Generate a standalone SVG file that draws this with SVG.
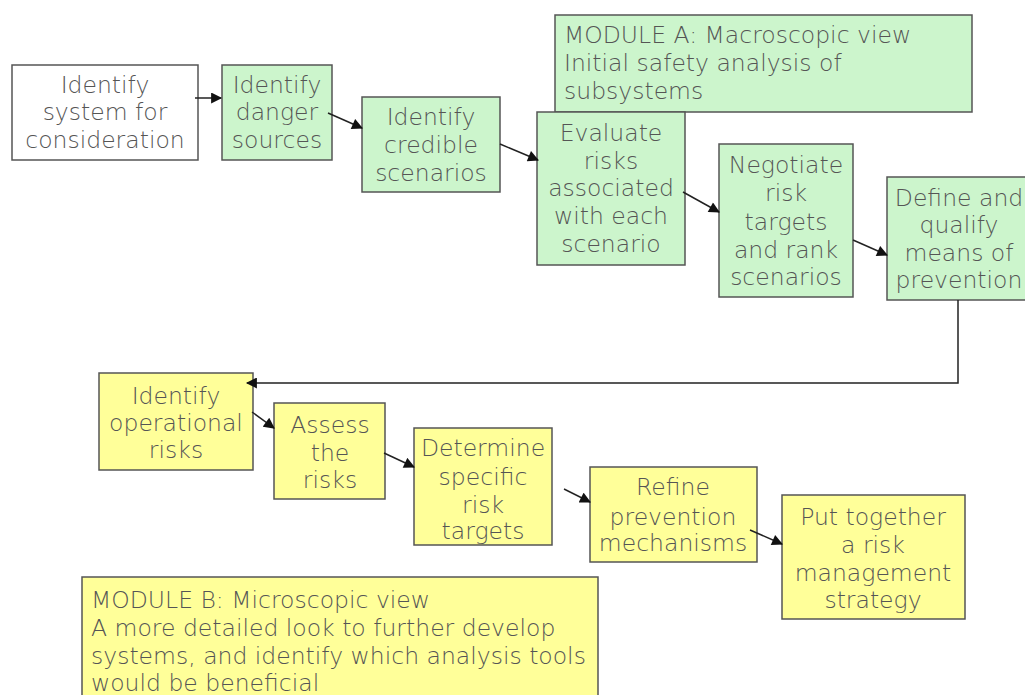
<svg xmlns="http://www.w3.org/2000/svg" width="1025" height="695" viewBox="0 0 1025 695">
<style>
.g{fill:#ccf5cc;stroke:#555;stroke-width:1.5}
.y{fill:#ffff99;stroke:#555;stroke-width:1.5}
.w{fill:#fff;stroke:#555;stroke-width:1.5}
text{font-family:"DejaVu Sans",Verdana,sans-serif;font-size:23.5px;font-weight:200;fill:#555}
.c{text-anchor:middle}
.e{stroke:#222;stroke-width:1.5;fill:none}
</style>
<defs>
<marker id="ah" viewBox="0 0 10 10" refX="9" refY="5" markerWidth="12" markerHeight="11" markerUnits="userSpaceOnUse" orient="auto">
<path d="M0,0L10,5L0,10z" fill="#111"/>
</marker>
</defs>
<rect width="1025" height="695" fill="#fff"/>
<g id="n1"><rect class="w" x="12" y="65" width="186" height="95"/>
<text class="c" x="105" y="93">Identify</text><text class="c" x="105" y="120">system for</text><text class="c" x="105" y="148">consideration</text></g>
<g id="n2"><rect class="g" x="222" y="65" width="110" height="95"/>
<text class="c" x="277" y="93">Identify</text><text class="c" x="277" y="120">danger</text><text class="c" x="277" y="148">sources</text></g>
<g id="n3"><rect class="g" x="362" y="97" width="138" height="95"/>
<text class="c" x="431" y="125">Identify</text><text class="c" x="431" y="153">credible</text><text class="c" x="431" y="181">scenarios</text></g>
<g id="modA"><rect class="g" x="555" y="15" width="417" height="97"/>
<text x="564" y="43">MODULE A: Macroscopic view</text><text x="564" y="71">Initial safety analysis of</text><text x="564" y="99">subsystems</text></g>
<g id="n4"><rect class="g" x="537" y="112" width="148" height="153"/>
<text class="c" x="611" y="141">Evaluate</text><text class="c" x="611" y="169">risks</text><text class="c" x="611" y="196">associated</text><text class="c" x="611" y="224">with each</text><text class="c" x="611" y="252">scenario</text></g>
<g id="n5"><rect class="g" x="719" y="144" width="134" height="153"/>
<text class="c" x="786" y="173">Negotiate</text><text class="c" x="786" y="201">risk</text><text class="c" x="786" y="230">targets</text><text class="c" x="786" y="258">and rank</text><text class="c" x="786" y="285">scenarios</text></g>
<g id="n6"><rect class="g" x="887" y="177" width="145" height="123"/>
<text class="c" x="959" y="206">Define and</text><text class="c" x="959" y="233">qualify</text><text class="c" x="959" y="261">means of</text><text class="c" x="959" y="288">prevention</text></g>
<g id="n7"><rect class="y" x="99" y="373" width="154" height="97"/>
<text class="c" x="176" y="404">Identify</text><text class="c" x="176" y="431">operational</text><text class="c" x="176" y="458">risks</text></g>
<g id="n8"><rect class="y" x="274" y="403" width="111" height="96"/>
<text class="c" x="330" y="433">Assess</text><text class="c" x="330" y="461">the</text><text class="c" x="330" y="488">risks</text></g>
<g id="n9"><rect class="y" x="414" y="428" width="138" height="117"/>
<text class="c" x="483" y="456">Determine</text><text class="c" x="483" y="485">specific</text><text class="c" x="483" y="513">risk</text><text class="c" x="483" y="539">targets</text></g>
<g id="n10"><rect class="y" x="590" y="467" width="167" height="95"/>
<text class="c" x="673" y="495">Refine</text><text class="c" x="673" y="525">prevention</text><text class="c" x="673" y="551">mechanisms</text></g>
<g id="n11"><rect class="y" x="782" y="495" width="183" height="124"/>
<text class="c" x="873" y="525">Put together</text><text class="c" x="873" y="553">a risk</text><text class="c" x="873" y="581">management</text><text class="c" x="873" y="608">strategy</text></g>
<g id="modB"><rect class="y" x="82" y="577" width="516" height="130"/>
<text x="91" y="608">MODULE B: Microscopic view</text><text x="91" y="636">A more detailed look to further develop</text><text x="91" y="664">systems, and identify which analysis tools</text><text x="91" y="691">would be beneficial</text></g>
<g id="connectors">
<line class="e" x1="195" y1="98" x2="221" y2="98" marker-end="url(#ah)"/>
<line class="e" x1="328" y1="113" x2="362" y2="128" marker-end="url(#ah)"/>
<line class="e" x1="500" y1="144" x2="538" y2="160" marker-end="url(#ah)"/>
<line class="e" x1="683" y1="192" x2="719" y2="212" marker-end="url(#ah)"/>
<line class="e" x1="853" y1="240" x2="887" y2="255" marker-end="url(#ah)"/>
<polyline class="e" points="958,300 958,383 247,383" marker-end="url(#ah)"/>
<line class="e" x1="252" y1="412" x2="274" y2="428" marker-end="url(#ah)"/>
<line class="e" x1="384" y1="453" x2="414" y2="467" marker-end="url(#ah)"/>
<line class="e" x1="564" y1="489" x2="590" y2="502" marker-end="url(#ah)"/>
<line class="e" x1="750" y1="530" x2="782" y2="544" marker-end="url(#ah)"/>
</g>
</svg>
